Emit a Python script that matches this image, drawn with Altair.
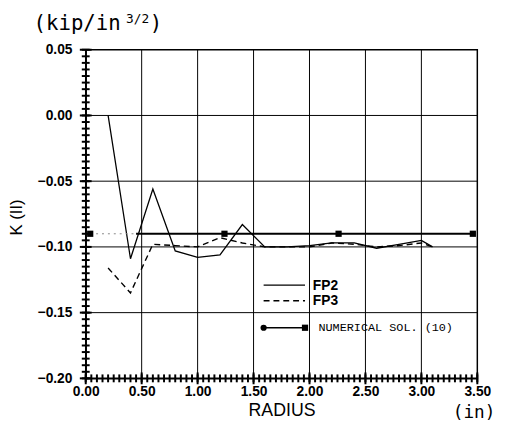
import altair as alt
import pandas as pd

# ---- data ----
fp2_r = [0.2, 0.4, 0.6, 0.8, 1.0, 1.2, 1.4, 1.6, 1.8, 2.0, 2.2, 2.4, 2.6, 2.8, 3.0, 3.1]
fp2_k = [0.0, -0.109, -0.056, -0.103, -0.108, -0.106, -0.083, -0.100, -0.100, -0.099,
         -0.097, -0.097, -0.101, -0.098, -0.095, -0.100]

fp3_r = [0.2, 0.4, 0.6, 0.8, 1.0, 1.2, 1.4, 1.6, 1.8, 2.0, 2.2, 2.4, 2.6, 2.8, 3.0, 3.1]
fp3_k = [-0.116, -0.135, -0.098, -0.099, -0.100, -0.093, -0.097, -0.100, -0.100, -0.100,
         -0.097, -0.098, -0.100, -0.099, -0.097, -0.100]

num_r = [0.04, 1.24, 2.26, 3.46]
num_k = [-0.090, -0.090, -0.090, -0.090]
num_solid_r = [0.45, 1.24, 2.26, 3.46]   # heavy part of the line
num_faint_r = [0.04, 0.45]               # faint dotted start

x_grid = [0.5, 1.0, 1.5, 2.0, 2.5, 3.0]
y_grid = [0.0, -0.05, -0.10, -0.15]

x_major = [0.0, 0.5, 1.0, 1.5, 2.0, 2.5, 3.0, 3.5]
y_major = [-0.20, -0.15, -0.10, -0.05, 0.0, 0.05]
x_minor = [round(0.05 * i, 2) for i in range(71)]
y_minor = [round(-0.20 + 0.005 * i, 3) for i in range(51)]

# legend (inside plot)
leg_line_r = [1.59, 1.96]
leg_fp2_k = -0.129
leg_fp3_k = -0.141
leg_num_k = -0.1615
leg_text_r = [2.03, 2.03, 2.08]
leg_text_k = [-0.1295, -0.1415, -0.1612]
leg_labels = ["FP2", "FP3", "NUMERICAL SOL. (10)"]

# ---- scales / axes ----
x_scale = alt.Scale(domain=[0, 3.5], nice=False, zero=False)
y_scale = alt.Scale(domain=[-0.20, 0.05], nice=False, zero=False)

x_axis = alt.Axis(
    values=x_major, format=".2f",
    grid=False, ticks=False, domainColor="black", domainWidth=1.5,
    labelFont="Liberation Sans", labelFontWeight="bold", labelFontSize=14, labelColor="black",
    labelPadding=6, labelOverlap=False, labelFlush=False, labelBound=False,
    title="RADIUS", titleFont="Liberation Sans", titleFontSize=18, titleFontWeight="normal",
    titleColor="black", titleX=199, titleY=33, titleBaseline="middle",
)
y_axis = alt.Axis(
    values=y_major, format=".2f",
    grid=False, ticks=False, domainColor="black", domainWidth=1.5,
    labelFont="Liberation Sans", labelFontWeight="bold", labelFontSize=14, labelColor="black",
    labelPadding=14, labelOverlap=False, labelFlush=False, labelBound=False,
    title="K (II)", titleFont="Liberation Sans", titleFontSize=17, titleFontWeight="normal",
    titleColor="black", titleX=-70, titleY=170, titleAngle=-90, titleBaseline="middle",
    titleAlign="center",
)


def X(field="r"):
    return alt.X(f"{field}:Q", scale=x_scale, axis=x_axis)


def Y(field="k"):
    return alt.Y(f"{field}:Q", scale=y_scale, axis=y_axis)


df_fp2 = pd.DataFrame({"r": fp2_r, "k": fp2_k})
df_fp3 = pd.DataFrame({"r": fp3_r, "k": fp3_k})
df_num = pd.DataFrame({"r": num_r, "k": num_k})
df_num_solid = pd.DataFrame({"r": num_solid_r, "k": num_k})
df_num_faint = pd.DataFrame({"r": num_faint_r, "k": num_k[:2]})

vgrid = alt.Chart(pd.DataFrame({"r": x_grid})).mark_rule(color="black", strokeWidth=1).encode(x=X())
hgrid = alt.Chart(pd.DataFrame({"k": y_grid})).mark_rule(color="black", strokeWidth=1).encode(y=Y())

# axis ticks (minor + major) drawn through the scales, straddling the axis lines
xt_minor = alt.Chart(pd.DataFrame({"r": x_minor, "k": [-0.20] * len(x_minor)})).mark_tick(
    orient="vertical", color="black", thickness=2, size=8, opacity=1).encode(x=X(), y=Y())
xt_major = alt.Chart(pd.DataFrame({"r": x_major, "k": [-0.20] * len(x_major)})).mark_tick(
    orient="vertical", color="black", thickness=2, size=12, opacity=1).encode(x=X(), y=Y())
yt_minor = alt.Chart(pd.DataFrame({"r": [0.0] * len(y_minor), "k": y_minor})).mark_tick(
    orient="horizontal", color="black", thickness=2, size=8, opacity=1).encode(x=X(), y=Y())
yt_major = alt.Chart(pd.DataFrame({"r": [0.0] * len(y_major), "k": y_major})).mark_tick(
    orient="horizontal", color="black", thickness=2, size=12, opacity=1).encode(x=X(), y=Y())

fp2 = alt.Chart(df_fp2).mark_line(color="black", strokeWidth=1.3).encode(x=X(), y=Y())
fp3 = alt.Chart(df_fp3).mark_line(color="black", strokeWidth=1.4, strokeDash=[6, 4]).encode(x=X(), y=Y())
num_line = alt.Chart(df_num_solid).mark_line(color="black", strokeWidth=2).encode(x=X(), y=Y())
num_faint = alt.Chart(df_num_faint).mark_line(color="#888888", strokeWidth=1, strokeDash=[2, 4]).encode(x=X(), y=Y())
num_pts = alt.Chart(df_num).mark_point(shape="square", filled=True, color="black", size=40, opacity=1).encode(x=X(), y=Y())

leg_df = pd.DataFrame({
    "r": leg_line_r * 3,
    "k": [leg_fp2_k] * 2 + [leg_fp3_k] * 2 + [leg_num_k] * 2,
    "s": ["FP2"] * 2 + ["FP3"] * 2 + ["NUM"] * 2,
})
leg_fp2 = alt.Chart(leg_df[leg_df.s == "FP2"]).mark_line(color="black", strokeWidth=1.3).encode(x=X(), y=Y())
leg_fp3 = alt.Chart(leg_df[leg_df.s == "FP3"]).mark_line(color="black", strokeWidth=1.4, strokeDash=[6, 4]).encode(x=X(), y=Y())
leg_num = alt.Chart(leg_df[leg_df.s == "NUM"]).mark_line(color="black", strokeWidth=1.3).encode(x=X(), y=Y())
leg_circ = alt.Chart(pd.DataFrame({"r": [leg_line_r[0]], "k": [leg_num_k]})).mark_point(
    shape="circle", filled=True, color="black", size=40, opacity=1).encode(x=X(), y=Y())
leg_sq = alt.Chart(pd.DataFrame({"r": [leg_line_r[1]], "k": [leg_num_k]})).mark_point(
    shape="square", filled=True, color="black", size=40, opacity=1).encode(x=X(), y=Y())

leg_txt_df = pd.DataFrame({"r": leg_text_r, "k": leg_text_k, "t": leg_labels})
leg_txt_fp = alt.Chart(leg_txt_df.iloc[:2]).mark_text(
    align="left", baseline="middle", font="Liberation Sans", fontWeight="bold", fontSize=14, color="black"
).encode(x=X(), y=Y(), text="t:N")
leg_txt_num = alt.Chart(leg_txt_df.iloc[2:]).mark_text(
    align="left", baseline="middle", font="Liberation Mono", fontSize=12, color="black"
).encode(x=X(), y=Y(), text="t:N")

# unit labels
one = pd.DataFrame({"a": [0]})
unit1 = alt.Chart(one).mark_text(align="left", baseline="middle", font="DejaVu Sans Mono", fontSize=21, color="black").encode(
    x=alt.value(-53), y=alt.value(-26), text=alt.value("(kip/in"))
unit2 = alt.Chart(one).mark_text(align="left", baseline="middle", font="DejaVu Sans Mono", fontSize=13, color="black").encode(
    x=alt.value(41), y=alt.value(-31), text=alt.value("3/2"))
unit3 = alt.Chart(one).mark_text(align="left", baseline="middle", font="DejaVu Sans Mono", fontSize=21, color="black").encode(
    x=alt.value(65), y=alt.value(-26), text=alt.value(")"))
unit_in = alt.Chart(one).mark_text(align="left", baseline="middle", font="DejaVu Sans Mono", fontSize=18, color="black").encode(
    x=alt.value(373), y=alt.value(369), text=alt.value("(in)"))

chart = alt.layer(
    vgrid, hgrid, xt_minor, xt_major, yt_minor, yt_major,
    fp2, fp3, num_faint, num_line, num_pts,
    leg_fp2, leg_fp3, leg_num, leg_circ, leg_sq, leg_txt_fp, leg_txt_num,
    unit1, unit2, unit3, unit_in,
).properties(
    width=398, height=334,
    padding={"left": 79, "top": 39, "right": 20, "bottom": 45},
    autosize=alt.AutoSizeParams(type="none"),
    background="white",
).configure_view(stroke="black", strokeWidth=1.5)

chart.save("out.html", embed_options={"renderer": "svg", "actions": False})
